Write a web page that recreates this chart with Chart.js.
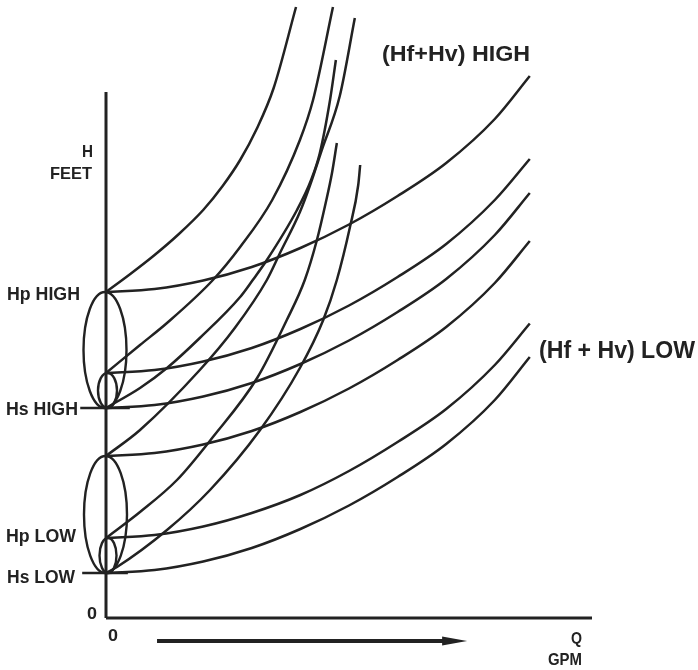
<!DOCTYPE html>
<html><head><meta charset="utf-8">
<script src="https://cdn.jsdelivr.net/npm/chart.js@4/dist/chart.umd.min.js"></script>
<style>html,body{margin:0;padding:0;background:#fff}canvas{display:block}</style>
</head><body>
<canvas id="c" width="698" height="670"></canvas>
<script>
// ---- DATA (Q in % of axis, H in feet-units) ----
const hsHigh = 42, hsLow = 9;
const hpHighHsHigh = 65.2, hpLowHsHigh = 49, hpHighHsLow = 32.4, hpLowHsLow = 16;
const axisLabels = ['Hp HIGH', 'Hs HIGH', 'Hp LOW', 'Hs LOW'];
const axisLabelValues = [hpHighHsHigh, hsHigh, hpLowHsLow, hsLow];

// Q positions at which the (Hf+Hv) LOW curves were read
const lowQ = [0, 10, 20, 30, 40, 50, 60, 70, 80, 87.2];
// (Hf+Hv) LOW system curves (flat), H read at lowQ
const lowFromHpHighHsHigh = [65.2, 65.8, 67.5, 70.2, 74.0, 78.7, 84.4, 91.0, 99.8, 108.4];
const lowFromHpLowHsHigh  = [49.0, 49.6, 51.3, 54.0, 57.8, 62.5, 68.2, 74.8, 83.6, 91.8];
const lowFromHsHigh       = [42.0, 42.6, 44.3, 47.0, 50.8, 55.5, 61.2, 67.8, 76.6, 85.0];
const lowFromHpHighHsLow  = [32.4, 33.0, 34.7, 37.4, 41.2, 45.9, 51.6, 58.2, 67.0, 75.4];
const lowFromHpLowHsLow   = [16.0, 16.6, 18.3, 21.0, 24.6, 29.4, 35.2, 41.8, 50.6, 58.9];
const lowFromHsLow        = [ 9.0,  9.6, 11.3, 14.0, 17.8, 22.5, 28.2, 34.8, 43.6, 52.2];

// (Hf+Hv) HIGH system curves (steep), [Q, H] pairs
const highFromHpHighHsHigh = [[0,65.2],[5,68.8],[10,72.6],[15,76.8],[20,81.6],[24,86.4],[27.6,91.6],[31,97.8],[34.5,106],[39.1,122.2]];
const highFromHpLowHsHigh  = [[0,49],[7,54.6],[12.55,59],[22,67.6],[27.6,74.2],[34.2,83.6],[39.9,95.6],[42.6,103.6],[46.7,122.2]];
const highFromHsHigh       = [[0,42],[7,46],[12.55,50],[19.3,56],[27.6,64.2],[30.2,67.6],[33.1,71.6],[39.3,81.6],[42.2,87.6],[44,93],[46.1,103.6],[47.3,111.6]];
const highFromHpHighHsLow  = [[0,32.4],[7,37.6],[19.3,49.6],[26.5,58],[33.1,67.6],[35.8,73],[39.9,81.2],[42,86.6],[44.4,93.6],[48.1,104.4],[51.2,120]];
const highFromHpLowHsLow   = [[0,16],[7,21.2],[14.6,27.6],[22,36.2],[31.1,48],[37.2,59.6],[40.9,67.6],[43.4,75.6],[45.2,83],[46.5,89],[47.5,95]];
const highFromHsLow        = [[0,9],[2.26,10.2],[12.55,17.6],[21.4,25.6],[31.7,37.6],[39.9,50],[44.7,59.6],[47.5,67.6],[50.2,78.2],[51.9,86.6],[52.3,90.6]];

// axes extents
const hAxisTop = 105.2, qAxisEnd = 100;
// marker bars at static heads: [H, Q from, Q to]
const hsBars = [[hsHigh, -5.3, 4.9], [hsLow, -4.9, 4.5]];
// ellipses: [lower head, upper head]
const ellipseSpans = [[hsHigh, hpHighHsHigh], [hsHigh, hpLowHsHigh], [hsLow, hpHighHsLow], [hsLow, hpLowHsLow]];

// ---- STYLE ----
const ink = '#222';
const FONT = '"Liberation Sans", Arial, Helvetica, sans-serif';
const ellipseGeom = [{dx:-1, rx:21.5}, {dx:1.5, rx:9.5}, {dx:-0.5, rx:21.5}, {dx:2, rx:8.5}];

const curveStyle = {showLine:true, borderColor:ink, borderWidth:2.5, pointRadius:0,
  cubicInterpolationMode:'monotone', fill:false, clip:false};
const lowSet = h => Object.assign({data: lowQ.map((q, i) => ({x:q, y:h[i]}))}, curveStyle);
const highSet = a => Object.assign({data: a.map(p => ({x:p[0], y:p[1]}))}, curveStyle);

const datasets = [
  ...[lowFromHpHighHsHigh, lowFromHpLowHsHigh, lowFromHsHigh, lowFromHpHighHsLow, lowFromHpLowHsLow, lowFromHsLow].map(lowSet),
  ...[highFromHpHighHsHigh, highFromHpLowHsHigh, highFromHsHigh, highFromHpHighHsLow, highFromHpLowHsLow, highFromHsLow].map(highSet)
];
datasets.push({data:[{x:0,y:0},{x:0,y:hAxisTop}], showLine:true, borderColor:ink, borderWidth:3, pointRadius:0, clip:false});
datasets.push({data:[{x:0,y:0},{x:qAxisEnd,y:0}], showLine:true, borderColor:ink, borderWidth:3, pointRadius:0, clip:false});
hsBars.forEach(b => datasets.push({data:[{x:b[1],y:b[0]},{x:b[2],y:b[0]}], showLine:true, borderColor:ink, borderWidth:2.5, pointRadius:0, clip:false}));

function fitText(ctx, text, px, py, size, width, align){
  ctx.font = `bold ${size}px ${FONT}`;
  const w = ctx.measureText(text).width;
  ctx.save();
  ctx.translate(px, py);
  ctx.scale(width / w, 1);
  ctx.textAlign = align; ctx.textBaseline = 'alphabetic';
  ctx.fillText(text, 0, 0);
  ctx.restore();
}

const decor = {
  id:'decor',
  afterDatasetsDraw(chart){
    const {ctx, scales:{x, y}} = chart;
    ctx.save();
    ctx.strokeStyle = ink; ctx.fillStyle = ink; ctx.lineWidth = 2.4;
    ellipseSpans.forEach((s, i) => {
      const bot = y.getPixelForValue(s[0]), top = y.getPixelForValue(s[1]);
      const cx = x.getPixelForValue(0) + ellipseGeom[i].dx;
      ctx.beginPath();
      ctx.ellipse(cx, (top + bot) / 2, ellipseGeom[i].rx, (bot - top) / 2, 0, 0, Math.PI * 2);
      ctx.stroke();
    });
    const x0 = x.getPixelForValue(0), y0 = y.getPixelForValue(0);
    const offs = [[26, 8, 73], [28, 7, 72], [30, 4, 70], [31, 10, 68]];
    axisLabels.forEach((t, i) => {
      fitText(ctx, t, x0 - offs[i][0], y.getPixelForValue(axisLabelValues[i]) + offs[i][1], 18, offs[i][2], 'right');
    });
    fitText(ctx, '0', x0 - 9, y0 + 1, 17, 10, 'right');
    fitText(ctx, '0', x0 + 2, y0 + 23, 17, 10, 'left');
    fitText(ctx, 'H', x0 - 13, y.getPixelForValue(hAxisTop) + 65, 17, 11, 'right');
    fitText(ctx, 'FEET', x0 - 14, y.getPixelForValue(hAxisTop) + 87, 17, 42, 'right');
    const xe = x.getPixelForValue(qAxisEnd);
    fitText(ctx, 'Q', xe - 10, y0 + 26, 17, 11, 'right');
    fitText(ctx, 'GPM', xe - 10, y0 + 47, 17, 34, 'right');
    fitText(ctx, '(Hf+Hv) HIGH', x.getPixelForValue(56.8), y.getPixelForValue(111.4), 22, 148, 'left');
    fitText(ctx, '(Hf + Hv) LOW', x.getPixelForValue(89.1), y.getPixelForValue(52), 23, 156, 'left');
    const ay = y0 + 23, ax1 = x.getPixelForValue(10.5), ax2 = x.getPixelForValue(74.3);
    ctx.lineWidth = 4;
    ctx.beginPath(); ctx.moveTo(ax1, ay); ctx.lineTo(ax2 - 20, ay); ctx.stroke();
    ctx.beginPath(); ctx.moveTo(ax2 - 25, ay - 4.5); ctx.lineTo(ax2, ay); ctx.lineTo(ax2 - 25, ay + 4.5); ctx.closePath(); ctx.fill();
    ctx.restore();
  }
};

new Chart(document.getElementById('c'), {
  type:'scatter',
  data:{datasets},
  options:{
    responsive:false, animation:false, events:[],
    layout:{padding:{left:106, right:106, top:3, bottom:52}},
    plugins:{legend:{display:false}, tooltip:{enabled:false}},
    scales:{
      x:{type:'linear', min:0, max:100, display:false},
      y:{type:'linear', min:0, max:123, display:false}
    }
  },
  plugins:[decor]
});
</script>
</body></html>
